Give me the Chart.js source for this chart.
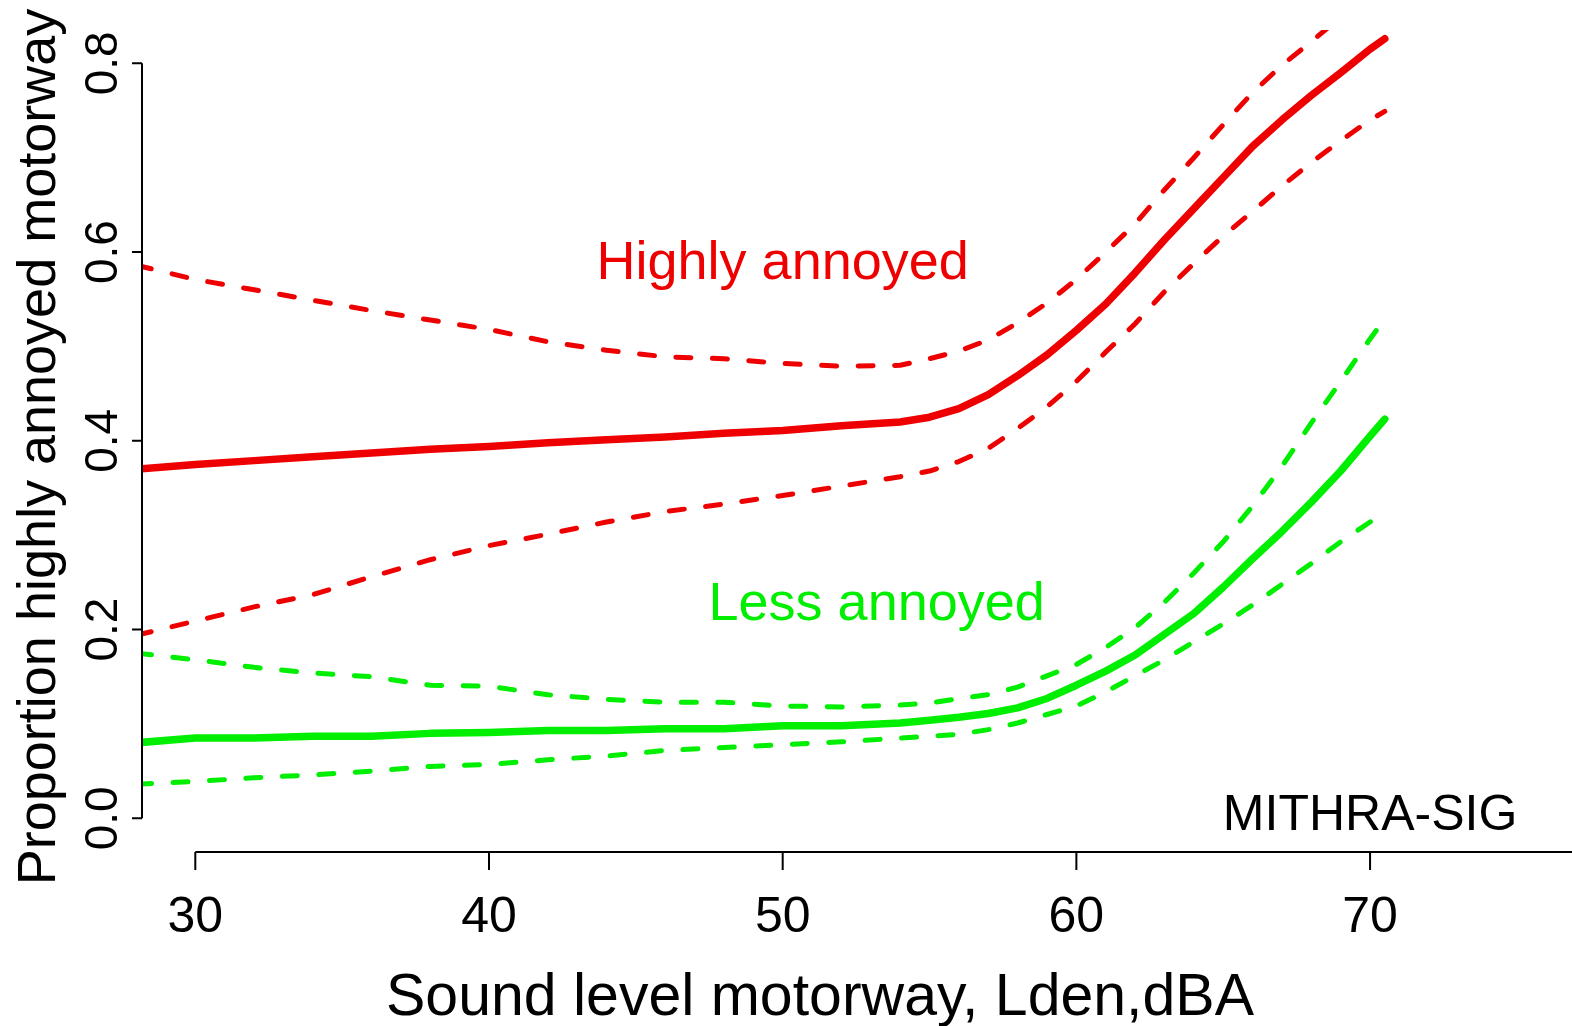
<!DOCTYPE html>
<html>
<head>
<script src="https://cdn.jsdelivr.net/npm/chart.js"></script>
<style>
  body { margin: 0; background: #ffffff; }
  #wrap { width: 1572px; height: 1026px; }
</style>
</head>
<body>
<div id="wrap"><canvas id="chart" width="1572" height="1026"></canvas></div>
<script>
// sound level motorway, Lden (dBA)
var levels = [28, 30, 32, 34, 36, 38, 40, 42, 44, 46, 48, 50, 52, 54, 55, 56, 57, 58, 59, 60,
              61, 62, 63, 64, 65, 66, 67, 68, 69, 70, 70.5];

// highly annoyed: fit and confidence band
var highFit   = [0.370, 0.375, 0.379, 0.383, 0.387, 0.391, 0.394, 0.398, 0.401, 0.404, 0.408, 0.411, 0.416, 0.420, 0.425, 0.434,
                 0.449, 0.469, 0.491, 0.517, 0.545, 0.578, 0.613, 0.646, 0.679, 0.712, 0.740, 0.766, 0.790, 0.815, 0.826];
var highUpper = [0.586, 0.571, 0.560, 0.549, 0.538, 0.528, 0.518, 0.505, 0.496, 0.489, 0.487, 0.482, 0.479, 0.480, 0.487, 0.495,
                 0.507, 0.525, 0.546, 0.571, 0.600, 0.630, 0.666, 0.700, 0.735, 0.769, 0.798, 0.823, 0.849, 0.874, 0.886];
var highLower = [0.194, 0.209, 0.224, 0.237, 0.256, 0.274, 0.289, 0.301, 0.314, 0.325, 0.333, 0.342, 0.352, 0.362, 0.368, 0.378,
                 0.392, 0.413, 0.436, 0.463, 0.494, 0.524, 0.558, 0.588, 0.617, 0.643, 0.670, 0.695, 0.718, 0.740, 0.749];

// less annoyed: fit and confidence band
var lessFit   = [0.080, 0.085, 0.085, 0.087, 0.087, 0.090, 0.091, 0.093, 0.093, 0.095, 0.095, 0.098, 0.098, 0.101, 0.104, 0.107,
                 0.111, 0.117, 0.127, 0.141, 0.156, 0.173, 0.195, 0.217, 0.245, 0.275, 0.304, 0.335, 0.368, 0.405, 0.423];
var lessUpper = [0.175, 0.168, 0.160, 0.154, 0.150, 0.141, 0.140, 0.131, 0.126, 0.123, 0.123, 0.119, 0.118, 0.120, 0.122, 0.127,
                 0.131, 0.139, 0.151, 0.163, 0.181, 0.202, 0.229, 0.260, 0.293, 0.331, 0.373, 0.419, 0.463, 0.508, 0.529];
var lessLower = [0.036, 0.039, 0.043, 0.046, 0.050, 0.055, 0.057, 0.062, 0.066, 0.072, 0.075, 0.078, 0.081, 0.085, 0.087, 0.089,
                 0.094, 0.101, 0.110, 0.119, 0.134, 0.151, 0.168, 0.187, 0.206, 0.226, 0.248, 0.270, 0.293, 0.314, 0.324];

var xTicks = [30, 40, 50, 60, 70];
var yTicks = [0, 0.2, 0.4, 0.6, 0.8];
var yTickLabels = ['0.0', '0.2', '0.4', '0.6', '0.8'];

var RED = '#ee0000';
var GREEN = '#00ee00';
var FONT = '"Liberation Sans", Arial, sans-serif';

// curve labels, placed in data units (baseline)
var notes = [
    { text: 'Highly annoyed', x: 50, y: 0.571, color: RED, size: 54 },
    { text: 'Less annoyed', x: 53.2, y: 0.210, color: GREEN, size: 54 },
    { text: 'MITHRA-SIG', x: 70, y: -0.012, color: '#000000', size: 50 }
];

function pts(ys) {
    return levels.map(function(x, i) { return { x: x, y: ys[i] }; });
}

function curve(ys, color, dashed) {
    return {
        data: pts(ys),
        borderColor: color,
        borderWidth: dashed ? 5 : 7.5,
        borderDash: dashed ? [15, 21.5] : [],
        borderCapStyle: 'round',
        borderJoinStyle: 'round',
        pointRadius: 0,
        tension: 0,
        fill: false,
        clip: 0
    };
}

// base-graphics style axes, labels and annotations
var baseAxes = {
    id: 'baseAxes',
    afterDraw: function(chart) {
        var ctx = chart.ctx;
        var xs = chart.scales.x, ys = chart.scales.y, area = chart.chartArea;
        ctx.save();
        ctx.strokeStyle = '#000';
        ctx.fillStyle = '#000';
        ctx.lineWidth = 2;
        ctx.lineCap = 'butt';

        // y axis
        var x0 = area.left;
        ctx.beginPath();
        ctx.moveTo(x0, ys.getPixelForValue(yTicks[0]));
        ctx.lineTo(x0, ys.getPixelForValue(yTicks[yTicks.length - 1]));
        yTicks.forEach(function(v) {
            var p = ys.getPixelForValue(v);
            ctx.moveTo(x0, p);
            ctx.lineTo(x0 - 10, p);
        });
        ctx.stroke();

        ctx.font = '46px ' + FONT;
        ctx.textAlign = 'center';
        ctx.textBaseline = 'alphabetic';
        yTicks.forEach(function(v, i) {
            ctx.save();
            ctx.translate(117, ys.getPixelForValue(v));
            ctx.rotate(-Math.PI / 2);
            ctx.fillText(yTickLabels[i], 0, 0);
            ctx.restore();
        });

        // x axis, runs on past the right edge
        var y0 = area.bottom;
        ctx.beginPath();
        ctx.moveTo(xs.getPixelForValue(xTicks[0]), y0);
        ctx.lineTo(chart.width, y0);
        xTicks.forEach(function(v) {
            var p = xs.getPixelForValue(v);
            ctx.moveTo(p, y0);
            ctx.lineTo(p, y0 + 18);
        });
        ctx.stroke();

        ctx.font = '50px ' + FONT;
        xTicks.forEach(function(v) {
            ctx.fillText(String(v), xs.getPixelForValue(v), 932);
        });

        // axis titles
        ctx.font = '59px ' + FONT;
        ctx.fillText('Sound level motorway, Lden,dBA', (area.left + area.right) / 2 + 2, 1015);

        ctx.save();
        ctx.font = '54px ' + FONT;
        ctx.translate(55, 447);
        ctx.rotate(-Math.PI / 2);
        ctx.fillText('Proportion highly annoyed motorway', 0, 0);
        ctx.restore();

        // curve labels
        notes.forEach(function(n) {
            ctx.font = n.size + 'px ' + FONT;
            ctx.fillStyle = n.color;
            ctx.fillText(n.text, xs.getPixelForValue(n.x), ys.getPixelForValue(n.y));
        });
        ctx.restore();
    }
};

var chart = new Chart(document.getElementById('chart'), {
    type: 'line',
    data: {
        datasets: [
            curve(highUpper, RED, true),
            curve(highLower, RED, true),
            curve(highFit, RED, false),
            curve(lessUpper, GREEN, true),
            curve(lessLower, GREEN, true),
            curve(lessFit, GREEN, false)
        ]
    },
    options: {
        responsive: false,
        devicePixelRatio: 1,
        animation: false,
        layout: { padding: { left: 142, right: 78, top: 30, bottom: 174 } },
        plugins: { legend: { display: false }, tooltip: { enabled: false } },
        scales: {
            x: { type: 'linear', display: false, min: 28.185, max: 74.22 },
            y: { type: 'linear', display: false, min: -0.0357, max: 0.8353 }
        }
    },
    plugins: [baseAxes]
});
</script>
</body>
</html>
